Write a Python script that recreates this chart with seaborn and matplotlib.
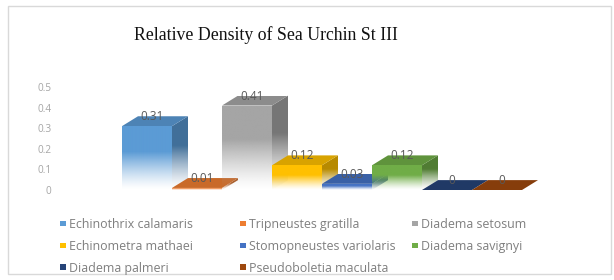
import numpy as np
import pandas as pd
import seaborn as sns
import matplotlib
matplotlib.use("Agg")
import matplotlib.pyplot as plt
from matplotlib.patches import Polygon, Patch, Rectangle
from matplotlib.colors import to_rgb

species = ['Echinothrix calamaris', 'Tripneustes gratilla', 'Diadema setosum',
           'Echinometra mathaei', 'Stomopneustes variolaris', 'Diadema savignyi',
           'Diadema palmeri', 'Pseudoboletia maculata']
density = [0.31, 0.01, 0.41, 0.12, 0.03, 0.12, 0.0, 0.0]
value_labels = ['0.31', '0.01', '0.41', '0.12', '0.03', '0.12', '0', '0']
colors = ['#5B9BD5', '#ED7D31', '#A5A5A5', '#FFC000',
          '#4472C4', '#70AD47', '#264478', '#9E480E']
yticks = [0, 0.1, 0.2, 0.3, 0.4, 0.5]

W, H = 614, 280
DX, DY = 0.32, 0.048  # depth offset of the fake 3d boxes (data units)


def shade(c, f):
    r, g, b = to_rgb(c)
    return (r * f, g * f, b * f)


def gradient_poly(ax, verts, color, zorder, fade=True):
    """fill a polygon with a colour that fades to white towards y=0"""
    poly = Polygon(verts, closed=True, facecolor='none', edgecolor='none', zorder=zorder)
    ax.add_patch(poly)
    xs = [v[0] for v in verts]
    ys = [v[1] for v in verts]
    y0, y1 = min(ys), max(ys)
    n = 64
    img = np.zeros((n, 1, 4))
    img[:, 0, :3] = to_rgb(color)
    if fade and y1 > y0:
        frac = np.linspace(0, 1, n)
        yy = y0 + frac * (y1 - y0)
        rel = yy / max(y1, 1e-6)
        img[:, 0, 3] = np.clip(rel / 0.6, 0.0, 1.0) ** 1.3
    else:
        img[:, 0, 3] = 1.0
    im = ax.imshow(img, extent=[min(xs), max(xs), y0, y1 if y1 > y0 else y0 + 1e-4],
                   origin='lower', aspect='auto', interpolation='bilinear', zorder=zorder)
    im.set_clip_path(poly)


sns.set_theme(style='white')
plt.rcParams['font.family'] = ['Open Sans', 'DejaVu Sans']

fig = plt.figure(figsize=(W / 100, H / 100), dpi=100)
ax = fig.add_axes([60 / W, (H - 190) / H, 520 / W, 130 / H])

df = pd.DataFrame({'species': species, 'density': density})
sns.barplot(data=df, x='species', y='density', hue='species', order=species,
            palette=colors, width=1.0, legend=False, ax=ax)

for i, p in enumerate(ax.patches[:len(species)]):
    x0 = p.get_x()
    x1 = x0 + p.get_width()
    h = p.get_height()
    c = colors[i]
    p.set_alpha(0)
    z = 3 + i
    # front face
    if h > 0:
        gradient_poly(ax, [(x0, 0), (x1, 0), (x1, h), (x0, h)], c, z)
        # side face
        gradient_poly(ax, [(x1, 0), (x1 + DX, DY), (x1 + DX, h + DY), (x1, h)],
                      shade(c, 0.72), z)
    # top face
    gradient_poly(ax, [(x0, h), (x1, h), (x1 + DX, h + DY), (x0 + DX, h + DY)],
                  shade(c, 0.85), z + 0.5, fade=False)
    ax.text(x0 + p.get_width() / 2 + DX * 0.3, h + DY * 0.95, value_labels[i],
            ha='center', va='center', fontsize=8.5, color='#595959', zorder=20)

ax.set_xlim(-1.74, 8.66)
ax.set_ylim(0, 130 / 206)
ax.set_yticks(yticks)
ax.set_yticklabels(['0', '0.1', '0.2', '0.3', '0.4', '0.5'])
ax.set_xticks([])
ax.set_xlabel('')
ax.set_ylabel('')
ax.tick_params(axis='y', length=0, pad=6, labelsize=7.2, labelcolor='#A6A6A6')
sns.despine(ax=ax, left=True, bottom=True)
ax.set_facecolor('none')

# title
fig.text(266 / W, 1 - 35 / H, 'Relative Density of Sea Urchin St III',
         ha='center', va='center', fontsize=12.8, family='Liberation Serif', color='#111111')

# legend, laid out in rows like the original (three columns)
handles = [Patch(facecolor=c, edgecolor='none') for c in colors]
col_x = [60, 240, 412]
for col in range(3):
    idx = list(range(col, len(species), 3))
    fig.legend([handles[k] for k in idx], [species[k] for k in idx],
               loc='upper left', bbox_to_anchor=(col_x[col] / W, 1 - 218 / H),
               frameon=False, borderpad=0, borderaxespad=0, fontsize=8.9,
               handlelength=0.45, handleheight=0.35, handletextpad=0.3,
               labelspacing=0.72, labelcolor='#7F7F7F')

# chart border
fig.patches.append(Rectangle((8 / W, 6 / H), 603 / W, 268 / H, transform=fig.transFigure,
                             fill=False, edgecolor='#D9D9D9', linewidth=1))

fig.savefig('out.png', dpi=100)
